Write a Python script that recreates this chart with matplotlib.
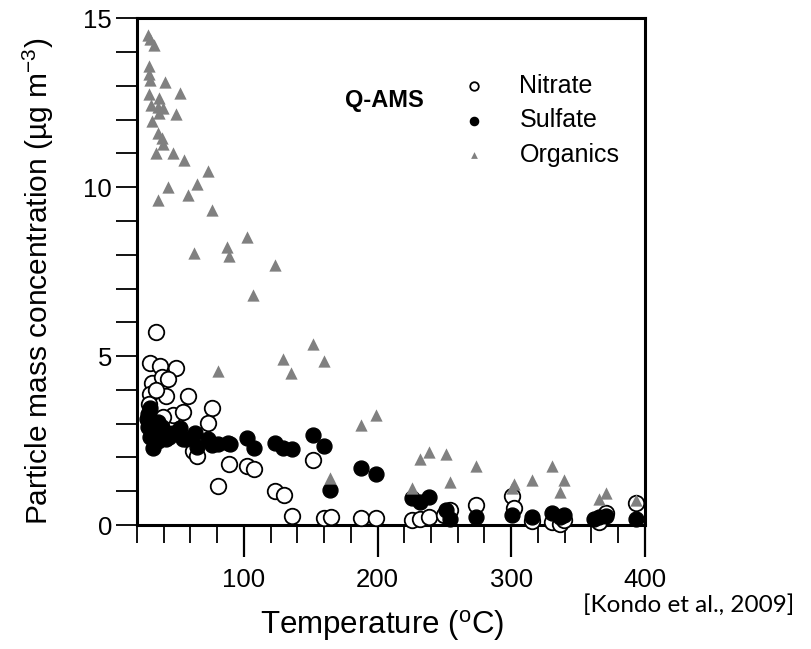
import matplotlib
matplotlib.use("Agg")
import matplotlib.pyplot as plt
from matplotlib.ticker import MultipleLocator

plt.rcParams['font.family'] = ['Liberation Sans', 'DejaVu Sans']
plt.rcParams['mathtext.fontset'] = 'custom'
plt.rcParams['mathtext.rm'] = 'Liberation Sans'
plt.rcParams['mathtext.it'] = 'Liberation Sans:italic'

# nitrate (open circles)
nitrate_t = [34, 30, 37.5, 49, 31.5, 39, 43.3, 29.5, 42, 58.3, 29, 34.5, 75.8, 47, 54.5,
             73.3, 39.5, 62, 64.5, 89, 102.5, 107.5, 80.8, 151.5, 123.3, 130, 135.8,
             160, 165, 187.5, 199, 225.8, 232, 238.3, 249.5, 254.5, 274, 300.8, 302,
             315.3, 330.3, 336.5, 339.7, 365.8, 371.3, 393.3]
nitrate_c = [5.72, 4.80, 4.70, 4.65, 4.21, 4.37, 4.31, 3.87, 3.83, 3.83, 3.57, 3.99, 3.45,
             3.25, 3.35, 3.03, 3.20, 2.20, 2.05, 1.82, 1.75, 1.66, 1.17, 1.93, 1.00, 0.89,
             0.27, 0.20, 0.24, 0.21, 0.20, 0.15, 0.17, 0.23, 0.30, 0.44, 0.59, 0.86, 0.49,
             0.13, 0.10, 0.03, 0.15, 0.10, 0.37, 0.64]

# sulfate (filled circles)
sulfate_t = [29.5, 28.3, 30, 33.3, 35.7, 28.3, 38.3, 29.5, 32, 35.7, 41, 42, 47, 52, 54.5,
             57, 63.3, 64.5, 73.3, 75.8, 80.8, 88.3, 89.5, 102.5, 107.5, 123.3, 129.5,
             135.8, 151.5, 160, 164.5, 187.5, 199, 225.8, 232, 238.3, 251.3, 254.5, 274,
             300.8, 315.3, 330.3, 336.5, 339.7, 362, 365.8, 371.3, 393.3, 31, 36, 44, 27.5]
sulfate_c = [3.45, 3.30, 3.11, 3.01, 3.06, 2.91, 2.91, 2.61, 2.27, 2.71, 2.76, 2.56, 2.71,
             2.86, 2.54, 2.56, 2.73, 2.32, 2.56, 2.37, 2.39, 2.42, 2.39, 2.59, 2.27, 2.42,
             2.27, 2.25, 2.66, 2.34, 1.05, 1.68, 1.50, 0.79, 0.69, 0.82, 0.44, 0.17, 0.25,
             0.30, 0.23, 0.37, 0.25, 0.30, 0.17, 0.25, 0.28, 0.17, 2.80, 2.50, 2.62, 3.15]

# organics (triangles)
organics_t = [28.5, 30, 32.5, 29, 29, 29.5, 40.8, 29, 52, 36.5, 30.8, 35.7, 39.5, 36.5, 49,
              31.5, 35.7, 38.3, 39.5, 34, 47, 55, 73, 43.3, 65, 35.7, 57.8, 75.8, 102.5,
              62.8, 87, 88.8, 107, 123.3, 151.5, 129.5, 160, 135.3, 80.8, 187.5, 199,
              164.5, 225.8, 232, 238.3, 251.3, 254.5, 274, 302, 300.8, 315.3, 330.3,
              339.7, 336.5, 365.8, 371.3, 393.3]
organics_c = [14.5, 14.37, 14.2, 13.58, 13.36, 13.17, 13.12, 12.77, 12.8, 12.65, 12.43,
              12.38, 12.33, 12.2, 12.16, 11.96, 11.59, 11.44, 11.29, 11.01, 11.01, 10.8,
              10.47, 10.0, 10.09, 9.62, 9.78, 9.32, 8.51, 8.04, 8.22, 7.96, 6.80, 7.71,
              5.35, 4.90, 4.86, 4.51, 4.57, 2.95, 3.26, 1.40, 1.09, 1.95, 2.15, 2.09,
              1.26, 1.75, 1.21, 1.09, 1.33, 1.75, 1.33, 0.99, 0.77, 0.94, 0.74]

fig = plt.figure(figsize=(8.11, 6.49), dpi=100)
ax = fig.add_axes([0.169, 0.191, 0.626, 0.781])

ax.scatter(nitrate_t, nitrate_c, s=125, facecolors='white', edgecolors='black',
           linewidths=1.3, clip_on=False, zorder=3, label='Nitrate')
ax.scatter(sulfate_t, sulfate_c, s=115, color='black', clip_on=False, zorder=4,
           label='Sulfate')
ax.scatter(organics_t, organics_c, s=78, marker='^', color='#808080', linewidths=0,
           clip_on=False, zorder=5, label='Organics')

ax.set_xlim(20, 400)
ax.set_ylim(0, 15)
ax.xaxis.set_major_locator(MultipleLocator(100))
ax.xaxis.set_minor_locator(MultipleLocator(20))
ax.yaxis.set_major_locator(MultipleLocator(5))
ax.yaxis.set_minor_locator(MultipleLocator(1))
ax.tick_params(axis='x', which='major', direction='out', length=23, width=1.6,
               pad=8, labelsize=18.5)
ax.tick_params(axis='x', which='minor', direction='out', length=13, width=1.3)
ax.tick_params(axis='y', which='both', direction='out', length=15, width=1.3,
               pad=3, labelsize=18.5)
for sp in ax.spines.values():
    sp.set_linewidth(2.2)

ax.set_xlabel('Temperature ($^{\\mathregular{o}}$C)', fontsize=22.5)
ax.xaxis.set_label_coords(0.482, -0.163)
ax.set_ylabel('Particle mass concentration (\u00b5g m$^{\\mathregular{-3}}$)', fontsize=21.5,
              ha='left')
ax.yaxis.set_label_coords(-0.16, 0.0)

ax.text(0.41, 0.838, 'Q-AMS', transform=ax.transAxes, fontsize=17, fontweight='bold',
        va='center', ha='left')

leg = ax.legend(loc='upper left', bbox_to_anchor=(0.64, 0.89), frameon=False,
                fontsize=18, markerscale=0.55, handlelength=1.0, handletextpad=1.3,
                labelspacing=0.42, borderpad=0, borderaxespad=0)

fig.text(0.719, 0.068, '[Kondo et al., 2009]', fontsize=17.5, family='Lato', va='center')

fig.savefig('out.png', dpi=100)
